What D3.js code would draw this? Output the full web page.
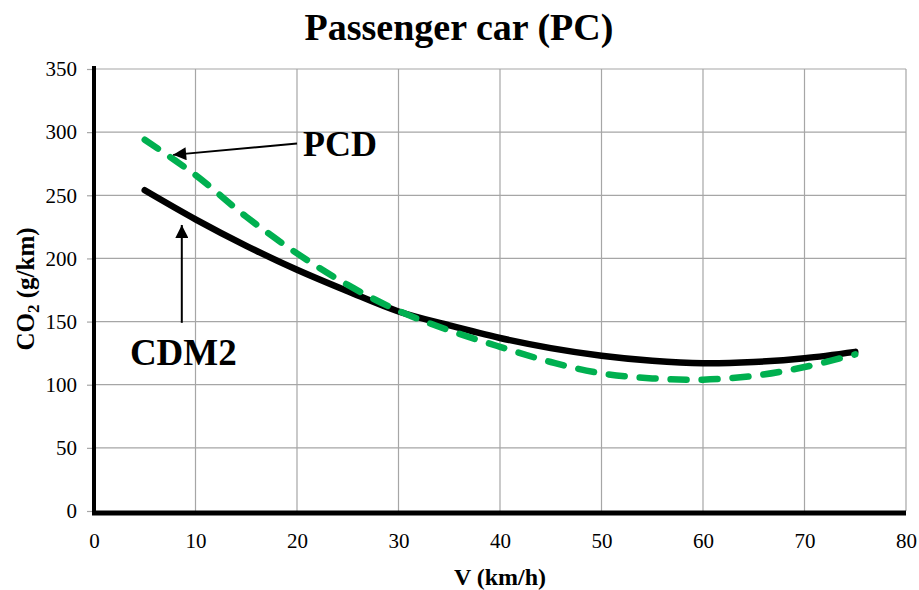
<!DOCTYPE html>
<html>
<head>
<meta charset="utf-8">
<script src="https://cdn.jsdelivr.net/npm/d3@7"></script>
<style>
  body { margin: 0; background: #fff; }
  svg { display: block; font-family: "Liberation Serif", "Times New Roman", serif; }
</style>
</head>
<body>
<svg id="chart" width="919" height="590"></svg>
<script>
// ---- Data ----
const speeds = [5, 10, 15, 20, 25, 30, 35, 40, 45, 50, 55, 60, 65, 70, 75];
const cdm2 = [254, 231, 210, 191, 174, 158, 147, 137, 129, 123, 119, 117, 118, 121, 126];
const pcd  = [294, 266, 233, 204, 179, 158.5, 143, 130, 118, 109, 105, 104, 107, 114, 124];
const xTicks = [0, 10, 20, 30, 40, 50, 60, 70, 80];
const yTicks = [0, 50, 100, 150, 200, 250, 300, 350];
const titleText = "Passenger car (PC)";
const xLabel = "V (km/h)";
// annotations in data units
const pcdArrow = { from: [20, 291], to: [7.8, 282], label: "PCD", at: [20.6, 281] };
const cdmArrow = { from: [8.65, 149], to: [8.65, 226.5], label: "CDM2", at: [8.8, 115.5] };

// ---- Layout ----
const svg = d3.select("#chart");
const x = d3.scaleLinear().domain([0, 80]).range([94, 906]);
const y = d3.scaleLinear().domain([0, 350]).range([511, 69]);

// defs: arrowhead
svg.append("defs").append("marker")
  .attr("id", "arrow").attr("viewBox", "0 0 10 10")
  .attr("refX", 10).attr("refY", 5)
  .attr("markerWidth", 17).attr("markerHeight", 13)
  .attr("markerUnits", "userSpaceOnUse")
  .attr("orient", "auto")
  .append("path").attr("d", "M0,0 L10,5 L0,10 Z").attr("fill", "#000");

// gridlines
const grid = svg.append("g");
grid.selectAll("line.h").data(yTicks.filter(d => d > 0)).join("line")
  .attr("x1", x(0)).attr("x2", x(80))
  .attr("y1", d => y(d)).attr("y2", d => y(d))
  .attr("stroke", "#a6a6a6").attr("stroke-width", 1.2);
grid.selectAll("line.v").data(xTicks.filter(d => d > 0)).join("line")
  .attr("x1", d => x(d)).attr("x2", d => x(d))
  .attr("y1", y(0)).attr("y2", y(350))
  .attr("stroke", "#a6a6a6").attr("stroke-width", 1.2);

// y axis
const yAxis = svg.append("g").attr("transform", `translate(${x(0)},0)`)
  .call(d3.axisLeft(y).tickValues(yTicks).tickSize(7).tickPadding(10));
yAxis.select(".domain").remove();
yAxis.selectAll(".tick line").attr("stroke", "#a6a6a6").attr("stroke-width", 1.2);
yAxis.selectAll(".tick text").attr("font-size", 21).attr("fill", "#000")
  .attr("font-family", "Liberation Serif, serif");

// x axis
const xAxis = svg.append("g").attr("transform", `translate(0,${y(0)})`)
  .call(d3.axisBottom(x).tickValues(xTicks).tickSize(0).tickPadding(22));
xAxis.select(".domain").remove();
xAxis.selectAll(".tick text").attr("font-size", 21).attr("fill", "#000")
  .attr("font-family", "Liberation Serif, serif");

// axis lines (thick black)
svg.append("line").attr("x1", x(0)).attr("x2", x(0)).attr("y1", y(350) - 3).attr("y2", y(0) + 4)
  .attr("stroke", "#000").attr("stroke-width", 4);
svg.append("line").attr("x1", x(0) - 2).attr("x2", x(80)).attr("y1", y(0) + 2).attr("y2", y(0) + 2)
  .attr("stroke", "#000").attr("stroke-width", 5);

// lines
const line = d3.line().x((d, i) => x(speeds[i])).y(d => y(d)).curve(d3.curveCatmullRom.alpha(0.5));
svg.append("path").datum(cdm2).attr("d", line)
  .attr("fill", "none").attr("stroke", "#000").attr("stroke-width", 6.5)
  .attr("stroke-linecap", "round");
svg.append("path").datum(pcd).attr("d", line)
  .attr("fill", "none").attr("stroke", "#00b050").attr("stroke-width", 6.5)
  .attr("stroke-linecap", "round").attr("stroke-dasharray", "16,15");

// annotations
[pcdArrow, cdmArrow].forEach(a => {
  svg.append("line")
    .attr("x1", x(a.from[0])).attr("y1", y(a.from[1]))
    .attr("x2", x(a.to[0])).attr("y2", y(a.to[1]))
    .attr("stroke", "#000").attr("stroke-width", 2)
    .attr("marker-end", "url(#arrow)");
});
svg.append("text").attr("x", x(pcdArrow.at[0])).attr("y", y(pcdArrow.at[1]))
  .attr("font-size", 36).attr("font-weight", "bold").text(pcdArrow.label);
svg.append("text").attr("x", x(cdmArrow.at[0])).attr("y", y(cdmArrow.at[1]))
  .attr("text-anchor", "middle")
  .attr("font-size", 37).attr("font-weight", "bold").text(cdmArrow.label);

// title
svg.append("text").attr("x", 459).attr("y", 40).attr("text-anchor", "middle")
  .attr("font-size", 38).attr("font-weight", "bold").text(titleText);

// x label
svg.append("text").attr("x", 500).attr("y", 585).attr("text-anchor", "middle")
  .attr("font-size", 24).attr("font-weight", "bold").text(xLabel);

// y label with subscript
const yl = svg.append("text").attr("transform", "translate(34,289) rotate(-90)")
  .attr("text-anchor", "middle").attr("font-size", 25).attr("font-weight", "bold");
yl.append("tspan").text("CO");
yl.append("tspan").attr("font-size", 17).attr("dy", 5).text("2");
yl.append("tspan").attr("dy", -5).text(" (g/km)");
</script>
</body>
</html>
